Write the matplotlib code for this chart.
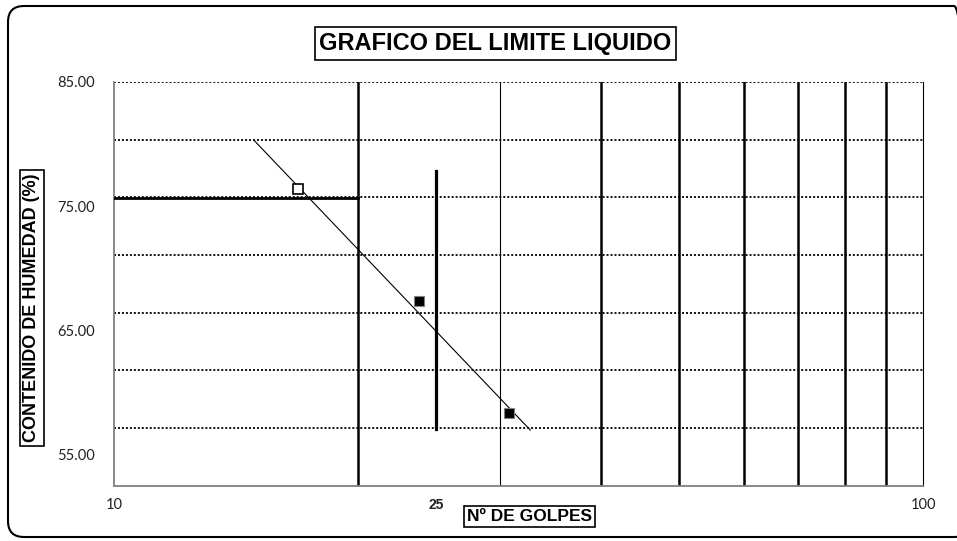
import matplotlib
matplotlib.use('Agg')
from matplotlib import pyplot as plt
from matplotlib.patches import FancyBboxPatch
from matplotlib.transforms import IdentityTransform
from matplotlib.ticker import NullLocator

# puntos del ensayo (golpes vs contenido de humedad)
golpes = [16.9, 23.8, 30.8]
humedad = [76.4, 67.4, 58.4]

# linea de tendencia (extremos)
trend_golpes = [14.9, 32.7]
trend_humedad = [80.3, 57.0]

# linea vertical en 25 golpes y linea horizontal del limite
linea_25_golpes = [25, 25]
linea_25_humedad = [57.1, 77.8]
linea_h_golpes = [10, 20]
linea_h_humedad = [75.7, 75.7]

# rejilla
verticales_gruesas = [20, 40, 50, 60, 70, 80, 90]
verticales_finas = [30]
horizontales = [57.14, 61.79, 66.43, 71.07, 75.71, 80.36, 85.0]

y_ticks = [55, 65, 75, 85]
y_labels = ['55.00', '65.00', '75.00', '85.00']
x_ticks = [10, 25, 100]
x_labels = ['10', '25', '100']

fig = plt.figure(figsize=(9.57, 5.41), dpi=100)
ax = fig.add_axes([0.1191, 0.1017, 0.8454, 0.7468])

# rejilla punteada y lineas verticales
for h in horizontales:
    ax.axhline(h, color='black', lw=1.3, linestyle=(0, (1.1, 1.1)), zorder=1)
for v in verticales_gruesas:
    ax.axvline(v, color='black', lw=1.8, zorder=2)
for v in verticales_finas:
    ax.axvline(v, color='black', lw=0.8, zorder=2)

ax.plot(linea_h_golpes, linea_h_humedad, color='black', lw=2.0, zorder=3)
ax.plot(linea_25_golpes, linea_25_humedad, color='black', lw=2.3, zorder=3)
ax.plot(trend_golpes, trend_humedad, color='black', lw=0.8, zorder=4)

# puntos
ax.plot(golpes[:1], humedad[:1], 's', ms=6.5, mfc='white', mec='black', mew=1.2, zorder=5)
ax.plot(golpes[1:], humedad[1:], 's', ms=6.5, mfc='black', mec='#808080', mew=0.8, zorder=5)

ax.set_xscale('log')
ax.set_xlim(10, 100)
ax.set_ylim(52.5, 85)
ax.xaxis.set_minor_locator(NullLocator())
ax.set_xticks(x_ticks, x_labels)
ax.set_yticks(y_ticks, y_labels)
ax.tick_params(axis='y', length=0, pad=14, labelsize=10.5, labelcolor='#222222')
ax.tick_params(axis='x', length=0, pad=9, labelsize=10.5, labelcolor='#222222')
for t in ax.get_yticklabels() + ax.get_xticklabels():
    t.set_fontfamily('Lato')
t25 = ax.get_xticklabels()[1]
t25.set_fontfamily('Liberation Sans')
t25.set_fontweight('bold')
t25.set_fontsize(10)

ax.spines['top'].set_visible(False)
ax.spines['left'].set_color('#808080')
ax.spines['bottom'].set_color('#808080')
ax.spines['left'].set_linewidth(1.3)
ax.spines['bottom'].set_linewidth(1.3)
ax.spines['right'].set_color('black')
ax.spines['right'].set_linewidth(0.8)

# titulos con recuadro
caja = dict(boxstyle='square,pad=0.2', fc='white', ec='black', lw=1.2)
fig.text(0.5178, 0.9196, 'GRAFICO DEL LIMITE LIQUIDO', ha='center', va='center',
         fontsize=17, fontweight='bold', family='Liberation Sans', bbox=caja)
fig.text(0.0334, 0.4307, 'CONTENIDO DE HUMEDAD (%)', ha='center', va='center', rotation=90,
         fontsize=13, fontweight='bold', family='Liberation Sans', bbox=caja)
fig.text(0.5533, 0.0453, 'Nº DE GOLPES', ha='center', va='center',
         fontsize=12.5, fontweight='bold', family='Liberation Sans', bbox=caja)

# marco redondeado exterior
marco = FancyBboxPatch((8, 4), 962, 531, boxstyle='round,pad=0,rounding_size=16',
                       transform=IdentityTransform(), fc='none', ec='black', lw=1.5)
fig.patches.append(marco)

fig.savefig('out.png', dpi=100)
